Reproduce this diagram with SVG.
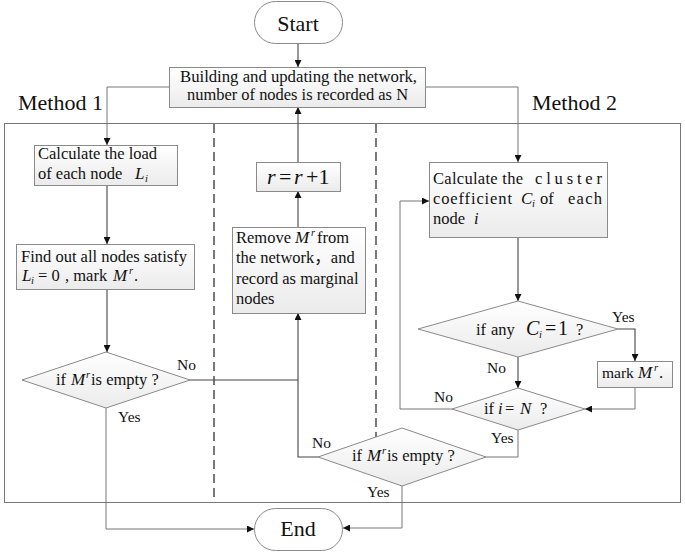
<svg xmlns="http://www.w3.org/2000/svg" width="685" height="553" viewBox="0 0 685 553">
<style>
text{font-family:"Liberation Serif","Noto Sans CJK SC",serif;fill:#111;}
.t{font-size:16.5px;}
.lbl{font-size:15.5px;}
.big{font-size:22px;}
.it{font-style:italic;}
.m{font-size:17px;font-style:italic;}
.sub{font-size:10.5px;font-style:italic;}
.box{fill:url(#g);stroke:#8a8a8a;stroke-width:1;}
.term{fill:#fff;stroke:#8a8a8a;stroke-width:1;}
.c{fill:none;stroke:#444;stroke-width:1.1;}
.c2{fill:none;stroke:#777;stroke-width:1;}
.dash{fill:none;stroke:#333;stroke-width:1.3;stroke-dasharray:9,5;}
</style>
<defs>
<linearGradient id="g" x1="0" y1="0" x2="0" y2="1">
<stop offset="0" stop-color="#ffffff"/>
<stop offset="1" stop-color="#ebebeb"/>
</linearGradient>
<marker id="a" viewBox="0 0 10 10" refX="10" refY="5" markerWidth="8" markerHeight="7" markerUnits="userSpaceOnUse" orient="auto">
<path d="M0,0 L10,5 L0,10 z" fill="#111"/>
</marker>
</defs>
<rect width="685" height="553" fill="#fff"/>

<g id="frame">
<rect x="4.5" y="123.5" width="676" height="379" fill="none" stroke="#777" stroke-width="1"/>
<line class="dash" x1="214" y1="124" x2="214" y2="502"/>
<line class="dash" x1="376" y1="124" x2="376" y2="437"/>
<text class="big" x="18" y="110">Method 1</text>
<text class="big" x="532" y="110">Method 2</text>
</g>

<g id="connectors">
<path class="c" d="M298,43 V67" marker-end="url(#a)"/>
<path class="c2" d="M169,87 H107 V145" marker-end="url(#a)"/>
<path class="c2" d="M425,87 H518 V162" marker-end="url(#a)"/>
<path class="c" d="M107,185 V244" marker-end="url(#a)"/>
<path class="c" d="M107,289 V352" marker-end="url(#a)"/>
<path class="c" d="M189,380 H298"/>
<path class="c" d="M318,457 H298 V313" marker-end="url(#a)"/>
<path class="c" d="M298,227 V191" marker-end="url(#a)"/>
<path class="c" d="M298,162 V107" marker-end="url(#a)"/>
<path class="c2" d="M106,408 V529 H254" marker-end="url(#a)"/>
<path class="c" d="M518,237 V301" marker-end="url(#a)"/>
<path class="c" d="M618,329 H635 V361" marker-end="url(#a)"/>
<path class="c" d="M518,357 V388" marker-end="url(#a)"/>
<path class="c2" d="M635,387 V409 H585" marker-end="url(#a)"/>
<path class="c2" d="M453,409 H400 V201 H429" marker-end="url(#a)"/>
<path class="c2" d="M518,430 V457 H485"/>
<path class="c2" d="M402,485 V528 H343" marker-end="url(#a)"/>
<text class="lbl" x="177" y="370">No</text>
<text class="lbl" x="118" y="422">Yes</text>
<text class="lbl" x="312" y="448">No</text>
<text class="lbl" x="367" y="497">Yes</text>
<text class="lbl" x="612" y="322">Yes</text>
<text class="lbl" x="487" y="373">No</text>
<text class="lbl" x="434" y="402">No</text>
<text class="lbl" x="491" y="443">Yes</text>
</g>

<g id="start">
<rect class="term" x="254.5" y="1.5" width="88" height="42" rx="21"/>
<text class="big" x="298" y="31" text-anchor="middle">Start</text>
</g>

<g id="build">
<rect class="box" x="169.5" y="67.5" width="256" height="40"/>
<text style="font-size:16px" x="180" y="81.5" textLength="237" lengthAdjust="spacingAndGlyphs">Building and updating the network,</text>
<text style="font-size:16px" x="187" y="99.5" textLength="221" lengthAdjust="spacingAndGlyphs">number of nodes is recorded as N</text>
</g>

<g id="calcload">
<rect class="box" x="34.5" y="145.5" width="143" height="40"/>
<text class="t" x="38" y="159">Calculate the load</text>
<text class="t" x="38" y="179">of each node</text>
<text class="m" x="135" y="179">L</text>
<text class="sub" x="145" y="182">i</text>
</g>

<g id="findout">
<rect class="box" x="16.5" y="244.5" width="178" height="45"/>
<text class="t" x="21" y="262">Find out all nodes satisfy</text>
<text class="m" x="22" y="281">L</text>
<text class="sub" x="31" y="284">i</text>
<text class="t" x="38" y="281">= 0</text>
<text class="t" x="65" y="281">, mark</text>
<text class="m" x="113" y="281">M</text>
<text class="sub" x="129" y="274">r</text>
<text class="t" x="134" y="281">.</text>
</g>

<g id="dec1">
<polygon class="box" points="106,352 190,380 106,408 22,380"/>
<text class="t" x="56" y="385">if</text>
<text class="m" x="71" y="385">M</text>
<text class="sub" x="86" y="378">r</text>
<text class="t" x="91" y="385">is empty ?</text>
</g>

<g id="rinc">
<rect class="box" x="256.5" y="162.5" width="84" height="29"/>
<text class="big it" x="267" y="184">r</text>
<text class="big" x="279" y="184">=</text>
<text class="big it" x="294" y="184">r</text>
<text class="big" x="306" y="184">+1</text>
</g>

<g id="remove">
<rect class="box" x="232.5" y="227.5" width="133" height="86"/>
<text class="t" x="236" y="243">Remove</text>
<text class="m" x="295" y="243">M</text>
<text class="sub" x="311" y="236">r</text>
<text class="t" x="317" y="243">from</text>
<text class="t" x="236" y="263">the network，and</text>
<text class="t" x="236" y="284">record as marginal</text>
<text class="t" x="236" y="304">nodes</text>
</g>

<g id="dec3">
<polygon class="box" points="402,428 486,457 402,486 318,457"/>
<text class="t" x="352" y="461">if</text>
<text class="m" x="367" y="461">M</text>
<text class="sub" x="382" y="454">r</text>
<text class="t" x="387" y="461">is empty ?</text>
</g>

<g id="cluster">
<rect class="box" x="429.5" y="162.5" width="178" height="75"/>
<text class="t" x="433" y="184" textLength="90" lengthAdjust="spacing">Calculate the</text>
<text class="t" x="535" y="184" textLength="67" lengthAdjust="spacing">cluster</text>
<text class="t" x="433" y="204" textLength="79" lengthAdjust="spacing">coefficient</text>
<text class="m" x="521" y="204">C</text>
<text class="sub" x="532" y="207">i</text>
<text class="t" x="540" y="204">of</text>
<text class="t" x="568" y="204" textLength="34" lengthAdjust="spacing">each</text>
<text class="t" x="433" y="224">node</text>
<text class="t it" x="474" y="224">i</text>
</g>

<g id="dec2">
<polygon class="box" points="518,301 618,329 518,357 418,329"/>
<text class="t" x="476" y="335">if</text>
<text class="t" x="491" y="335">any</text>
<text class="it" style="font-size:20px" x="526" y="335">C</text>
<text class="sub" x="539" y="338">i</text>
<text style="font-size:20px" x="545" y="335">=</text>
<text style="font-size:20px" x="558" y="335">1</text>
<text class="t" x="576" y="335">?</text>
</g>

<g id="mark">
<rect class="box" x="597.5" y="361.5" width="75" height="26"/>
<text style="font-size:15.5px" x="602" y="378">mark</text>
<text class="m" x="638" y="378">M</text>
<text class="sub" x="654" y="371">r</text>
<text class="t" x="659" y="378">.</text>
</g>

<g id="dec4">
<polygon class="box" points="518,388 585,409 518,430 452,409"/>
<text class="t" x="484" y="414">if</text>
<text class="t it" x="498" y="414">i</text>
<text class="t" x="505" y="414">=</text>
<text class="m" x="520" y="414">N</text>
<text class="t" x="540" y="414">?</text>
</g>

<g id="end">
<rect class="term" x="254.5" y="508.5" width="88" height="42" rx="21"/>
<text class="big" x="298" y="536" text-anchor="middle">End</text>
</g>
</svg>
